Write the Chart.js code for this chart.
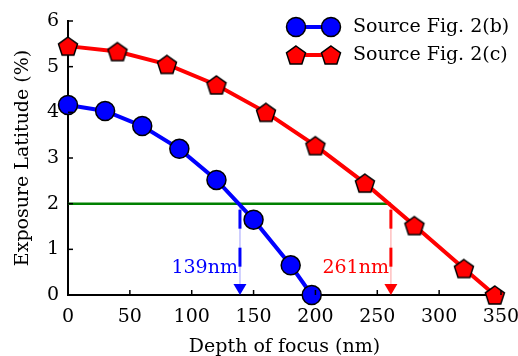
<!DOCTYPE html>
<html>
<head>
<meta charset="utf-8">
<script src="https://cdn.jsdelivr.net/npm/chart.js@4.4.1/dist/chart.umd.min.js"></script>
<style>
  html, body { margin: 0; padding: 0; background: #fff; }
  #wrap { width: 518px; height: 356px; position: relative; }
</style>
</head>
<body>
<div id="wrap"><canvas id="dof"></canvas></div>
<script>
// depth of focus (nm) vs exposure latitude (%)
const focusB = [0, 30, 60, 90, 120, 150, 180, 197];
const latitudeB = [4.16, 4.03, 3.70, 3.20, 2.52, 1.65, 0.65, 0];
const focusC = [0, 40, 80, 120, 160, 200, 240, 280, 320, 345];
const latitudeC = [5.45, 5.33, 5.05, 4.60, 4.00, 3.27, 2.45, 1.52, 0.58, 0];
const seriesNames = ['Source Fig. 2(b)', 'Source Fig. 2(c)'];
const xTicks = [0, 50, 100, 150, 200, 250, 300, 350];
const yTicks = [0, 1, 2, 3, 4, 5, 6];

// threshold latitude and the resulting depths of focus
const threshold = 2;
const dofB = 139;
const dofC = 261;

const FONT = 'DejaVu Serif';
const FS = 19;

function pentagon(size, fill) {
    const c = document.createElement('canvas');
    c.width = size + 4;
    c.height = size + 4;
    const g = c.getContext('2d');
    const cx = c.width / 2, cy = c.height / 2 + 1, r = size / 2;
    g.beginPath();
    for (let i = 0; i < 5; i++) {
        const a = -Math.PI / 2 + i * 2 * Math.PI / 5;
        const px = cx + r * Math.cos(a), py = cy + r * Math.sin(a);
        if (i === 0) g.moveTo(px, py); else g.lineTo(px, py);
    }
    g.closePath();
    g.fillStyle = fill;
    g.fill();
    g.lineWidth = 1.5;
    g.strokeStyle = '#000';
    g.stroke();
    return c;
}
const redPentagon = pentagon(20, '#ff0000');

function toXY(xs, ys) {
    return xs.map((x, i) => ({ x: x, y: ys[i] }));
}

// inward ticks, threshold guides and the legend
const extras = {
    id: 'extras',
    afterDatasetsDraw(chart) {
        const ctx = chart.ctx;
        const x = chart.scales.x, y = chart.scales.y;
        const area = chart.chartArea;
        ctx.save();

        // inward tick marks
        ctx.strokeStyle = '#000';
        ctx.lineWidth = 1.5;
        xTicks.forEach(v => {
            const px = x.getPixelForValue(v);
            ctx.beginPath();
            ctx.moveTo(px, area.bottom);
            ctx.lineTo(px, area.bottom - 5);
            ctx.stroke();
        });
        yTicks.forEach(v => {
            const py = y.getPixelForValue(v);
            ctx.beginPath();
            ctx.moveTo(area.left, py);
            ctx.lineTo(area.left + 5, py);
            ctx.stroke();
        });
        ctx.restore();
    },
    beforeDatasetsDraw(chart) {
        const ctx = chart.ctx;
        const x = chart.scales.x, y = chart.scales.y;
        ctx.save();
        const y2 = y.getPixelForValue(threshold);
        const y0 = y.getPixelForValue(0);

        // green threshold line
        ctx.strokeStyle = '#008000';
        ctx.lineWidth = 2.5;
        ctx.beginPath();
        ctx.moveTo(x.getPixelForValue(0), y2);
        ctx.lineTo(x.getPixelForValue(dofC), y2);
        ctx.stroke();

        // dashed drop lines with arrowheads
        [[dofB, '#0000ff', 'rgba(0,0,255,0.25)'], [dofC, '#ff0000', 'rgba(255,0,0,0.25)']].forEach(([v, col, faint]) => {
            const px = x.getPixelForValue(v);
            ctx.strokeStyle = faint;
            ctx.lineWidth = 1.5;
            ctx.setLineDash([]);
            ctx.beginPath();
            ctx.moveTo(px, y2);
            ctx.lineTo(px, y0 - 10);
            ctx.stroke();
            ctx.strokeStyle = col;
            ctx.lineWidth = 3;
            ctx.setLineDash([19, 19]);
            ctx.beginPath();
            ctx.moveTo(px, y2 + 6);
            ctx.lineTo(px, y0 - 28);
            ctx.stroke();
            ctx.setLineDash([]);
            ctx.fillStyle = col;
            ctx.beginPath();
            ctx.moveTo(px, y0);
            ctx.lineTo(px - 6.5, y0 - 11);
            ctx.lineTo(px + 6.5, y0 - 11);
            ctx.closePath();
            ctx.fill();
        });

        // value labels
        ctx.font = FS + 'px "' + FONT + '"';
        ctx.textAlign = 'right';
        ctx.textBaseline = 'middle';
        const ly = y.getPixelForValue(0.59);
        ctx.fillStyle = '#0000ff';
        ctx.fillText(dofB + 'nm', x.getPixelForValue(dofB) - 2, ly);
        ctx.fillStyle = '#ff0000';
        ctx.fillText(dofC + 'nm', x.getPixelForValue(dofC) - 2, ly);
        ctx.restore();
    },
    afterDraw(chart) {
        const ctx = chart.ctx;
        ctx.save();
        const rows = [
            { y: 27, color: '#0000ff', marker: 'circle' },
            { y: 55, color: '#ff0000', marker: 'pentagon' }
        ];
        rows.forEach((row, i) => {
            const x1 = 296, x2 = 331;
            ctx.strokeStyle = row.color;
            ctx.lineWidth = 4;
            ctx.beginPath();
            ctx.moveTo(x1, row.y);
            ctx.lineTo(x2, row.y);
            ctx.stroke();
            [x1, x2].forEach(mx => {
                if (row.marker === 'circle') {
                    ctx.beginPath();
                    ctx.arc(mx, row.y, 9.5, 0, Math.PI * 2);
                    ctx.fillStyle = row.color;
                    ctx.fill();
                    ctx.lineWidth = 1.5;
                    ctx.strokeStyle = '#000';
                    ctx.stroke();
                    ctx.strokeStyle = row.color;
                    ctx.lineWidth = 4;
                } else {
                    ctx.drawImage(redPentagon, mx - redPentagon.width / 2, row.y - redPentagon.height / 2);
                }
            });
            ctx.fillStyle = '#000';
            ctx.font = FS + 'px "' + FONT + '"';
            ctx.textAlign = 'left';
            ctx.textBaseline = 'middle';
            ctx.fillText(seriesNames[i], 353, row.y);
        });
        ctx.restore();
    }
};

new Chart(document.getElementById('dof'), {
    type: 'scatter',
    data: {
        datasets: [{
            label: seriesNames[0],
            data: toXY(focusB, latitudeB),
            showLine: true,
            borderColor: '#0000ff',
            borderWidth: 4,
            pointStyle: 'circle',
            pointRadius: 9.5,
            pointBackgroundColor: '#0000ff',
            pointBorderColor: '#000',
            pointBorderWidth: 1.5,
            clip: false
        }, {
            label: seriesNames[1],
            data: toXY(focusC, latitudeC),
            showLine: true,
            borderColor: '#ff0000',
            borderWidth: 4,
            pointStyle: redPentagon,
            pointRadius: 10,
            clip: false
        }]
    },
    options: {
        responsive: true,
        maintainAspectRatio: false,
        animation: false,
        events: [],
        layout: { padding: { left: 0, right: 17, top: 21, bottom: 0 } },
        plugins: {
            legend: { display: false },
            tooltip: { enabled: false }
        },
        scales: {
            x: {
                type: 'linear',
                min: 0,
                max: 350,
                afterBuildTicks: s => { s.ticks = xTicks.map(v => ({ value: v })); },
                afterFit: s => { s.height = 61; s.paddingRight = 0; s.paddingLeft = 0; },
                grid: { display: false, drawTicks: false },
                border: { color: '#000', width: 2 },
                ticks: { color: '#000', font: { family: FONT, size: FS }, padding: 11 },
                title: {
                    display: true,
                    text: 'Depth of focus (nm)',
                    color: '#000',
                    font: { family: FONT, size: FS },
                    padding: { top: 2, bottom: -2 }
                }
            },
            y: {
                min: 0,
                max: 6,
                afterBuildTicks: s => { s.ticks = yTicks.map(v => ({ value: v })); },
                afterFit: s => { s.width = 68; s.paddingTop = 0; s.paddingBottom = 0; },
                grid: { display: false, drawTicks: false },
                border: { color: '#000', width: 2 },
                ticks: { color: '#000', font: { family: FONT, size: FS }, padding: 9 },
                title: {
                    display: true,
                    text: 'Exposure Latitude (%)',
                    color: '#000',
                    font: { family: FONT, size: FS },
                    padding: { top: 12, bottom: 0 }
                }
            }
        }
    },
    plugins: [extras]
});
</script>
</body>
</html>
